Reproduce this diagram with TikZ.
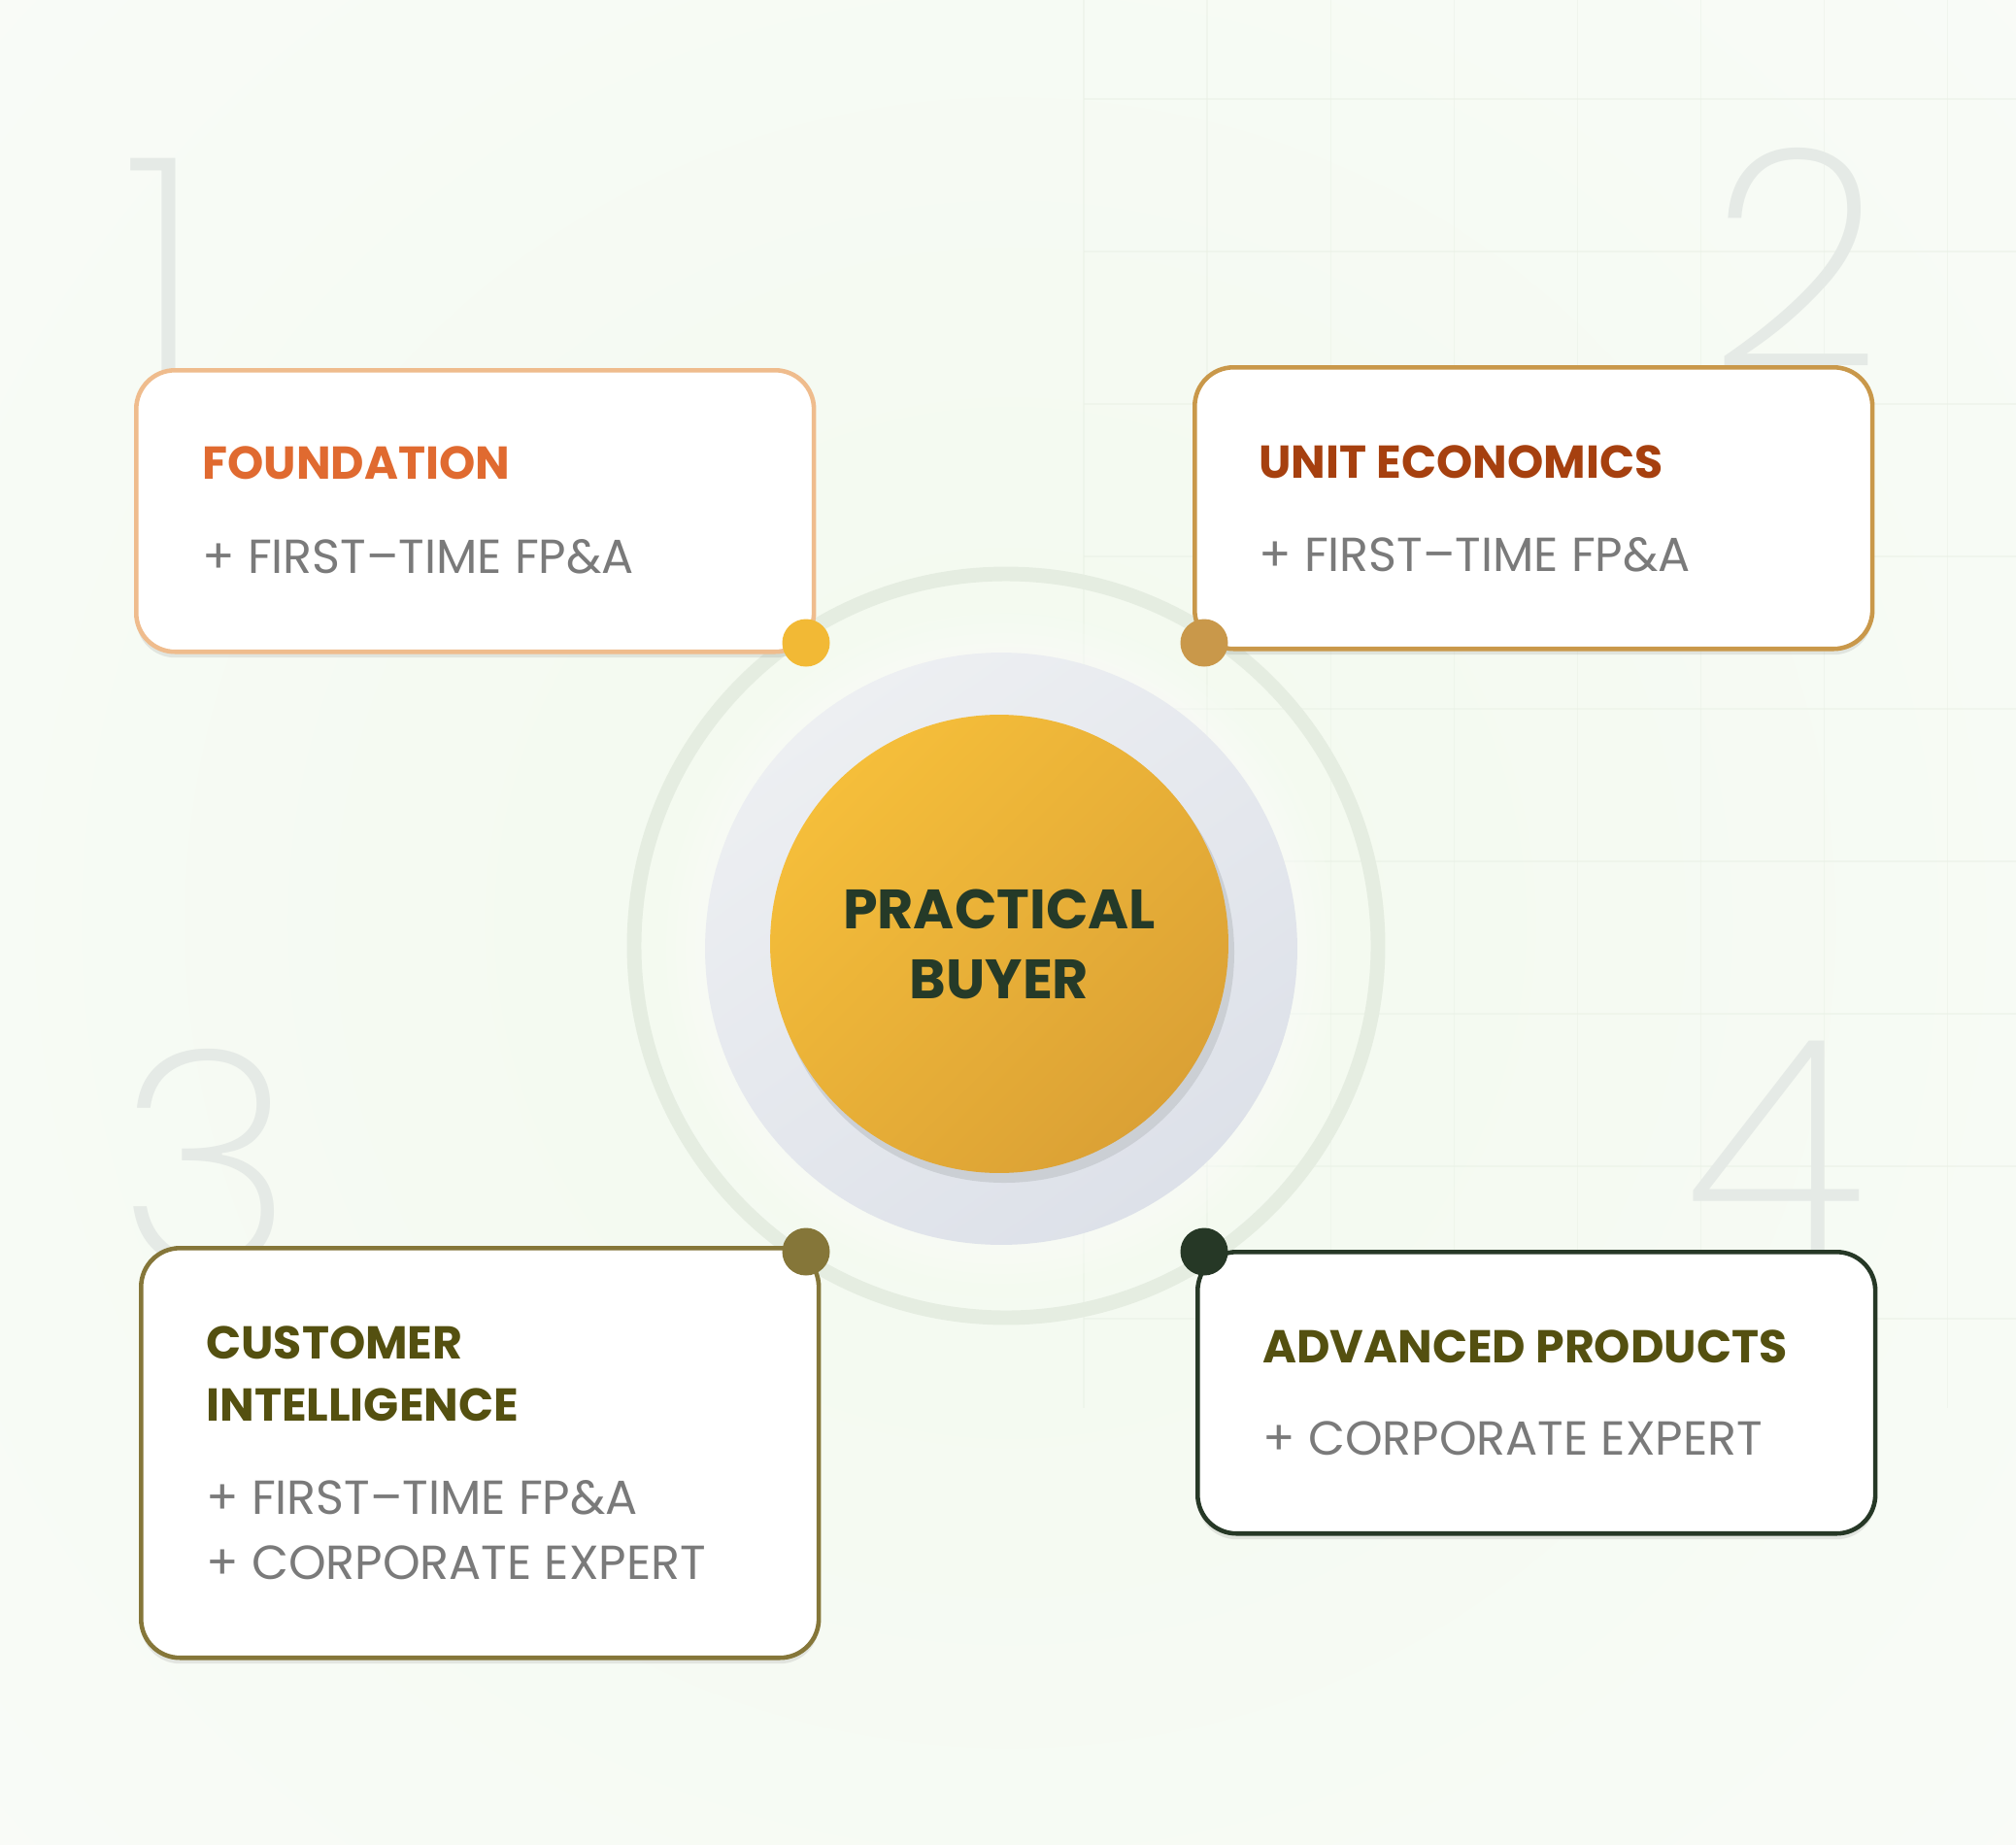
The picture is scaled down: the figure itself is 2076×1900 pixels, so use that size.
\documentclass[tikz,border=0pt]{standalone}
\usepackage{fontspec}
\setmainfont{Poppins}
\newfontfamily\digitfont{Poppins ExtraLight}
\usetikzlibrary{shadows}

\definecolor{bgtint}{HTML}{F2F9EE}
\definecolor{bgpale}{HTML}{FAFCF9}
\definecolor{gridline}{HTML}{EAF1E6}
\definecolor{digitgray}{HTML}{E5EAE6}
\definecolor{ringgreen}{HTML}{E5EDE1}
\definecolor{diskA}{HTML}{EDEFF2}
\definecolor{diskB}{HTML}{DDE1E9}
\definecolor{sunA}{HTML}{F5BE3A}
\definecolor{sunB}{HTML}{DBA135}
\definecolor{sunshadow}{HTML}{C6CACF}
\definecolor{inkgreen}{HTML}{253A28}
\definecolor{peach}{HTML}{EFBC8D}
\definecolor{ochre}{HTML}{C9984A}
\definecolor{mossline}{HTML}{857639}
\definecolor{pine}{HTML}{263826}
\definecolor{sunny}{HTML}{F2B935}
\definecolor{rust}{HTML}{E06A30}
\definecolor{brick}{HTML}{A6400F}
\definecolor{mossink}{HTML}{545010}
\definecolor{itemgray}{HTML}{7A7A7A}

\begin{document}
\begin{tikzpicture}[x=0.02cm, y=-0.02cm,
    card/.style={draw, line width=2.6pt, fill=white, rounded corners=0.8cm, anchor=north west,
        minimum width=13.96cm, minimum height=5.8cm, inner sep=0pt,
        drop shadow={shadow xshift=0pt, shadow yshift=-0.12cm, opacity=0.12, fill=black!70}},
    cardtitle/.style={anchor=base west, inner sep=0pt, font=\fontsize{27}{32}\selectfont\bfseries},
    carditem/.style={anchor=base west, inner sep=0pt, text=itemgray, font=\fontsize{28}{33}\selectfont},
    bignum/.style={anchor=north, inner sep=0pt, text=digitgray, font=\digitfont\fontsize{178}{178}\selectfont},
    knob/.style={circle, inner sep=0pt, minimum size=0.98cm}]

    \useasboundingbox (0,0) rectangle (2076,1900);
    \begin{scope}
        \clip (0,0) rectangle (2076,1900);
        \shade[inner color=bgtint, outer color=bgpale] (1040,950) circle[radius=1700];  % backdrop
        \foreach \gx in {0,...,7}
            \draw[gridline, line width=0.8pt, opacity=0.5] ({1116+127.1*\gx},0) -- ({1116+127.1*\gx},1450);
        \foreach \gy in {0,...,8}
            \draw[gridline, line width=0.8pt, opacity=0.5] (1116,{102+157*\gy}) -- (2076,{102+157*\gy});
    \end{scope}

    \node[bignum] (n1) at (168,163) {1};
    \node[bignum] (n2) at (1850,152) {2};
    \node[bignum] (n3) at (212,1080) {3};
    \node[bignum] (n4) at (1828,1072) {4};

    \draw[ringgreen, line width=8.5pt] (1036,974) circle[radius=383];   % ring
    \foreach \r in {345,335,...,305}
        \fill[white, opacity=0.12] (1031,977) circle[radius=\r];        % halo
    \node[circle, minimum size=12.2cm, inner sep=0pt, top color=diskA, bottom color=diskB,
        shading angle=35] (disk) at (1031,977) {};
    \fill[sunshadow, opacity=0.8] (1034,981) circle[radius=237];
    \node[circle, minimum size=9.44cm, inner sep=0pt, top color=sunA, bottom color=sunB,
        shading angle=45, text=inkgreen, align=center,
        font=\fontsize{32.5}{41}\selectfont\bfseries] (buyer) at (1029,972) {PRACTICAL\\BUYER};

    \node[card, draw=peach] (b1) at (138,379) {};
    \node[card, draw=ochre] (b2) at (1228,376) {};
    \node[card, draw=mossline, minimum height=8.44cm] (b3) at (143,1283) {};
    \node[card, draw=pine] (b4) at (1231,1287) {};

    \node[cardtitle, text=rust] (t1) at (208,493) {FOUNDATION};
    \node[carditem] (i1) at (208,590) {+ FIRST–TIME FP\&A};
    \node[cardtitle, text=brick] (t2) at (1296,492) {UNIT ECONOMICS};
    \node[carditem] (i2) at (1296,588) {+ FIRST–TIME FP\&A};
    \node[cardtitle, text=mossink] (t3a) at (212,1399) {CUSTOMER};
    \node[cardtitle, text=mossink] (t3b) at (212,1463) {INTELLIGENCE};
    \node[carditem] (i3a) at (212,1559) {+ FIRST–TIME FP\&A};
    \node[carditem] (i3b) at (212,1626) {+ CORPORATE EXPERT};
    \node[cardtitle, text=mossink] (t4) at (1300,1403) {ADVANCED PRODUCTS};
    \node[carditem] (i4) at (1300,1498) {+ CORPORATE EXPERT};

    \node[knob, fill=sunny] (d1) at (830,662) {};
    \node[knob, fill=ochre] (d2) at (1240,662) {};
    \node[knob, fill=mossline] (d3) at (830,1289) {};
    \node[knob, fill=pine] (d4) at (1240,1289) {};
\end{tikzpicture}
\end{document}
